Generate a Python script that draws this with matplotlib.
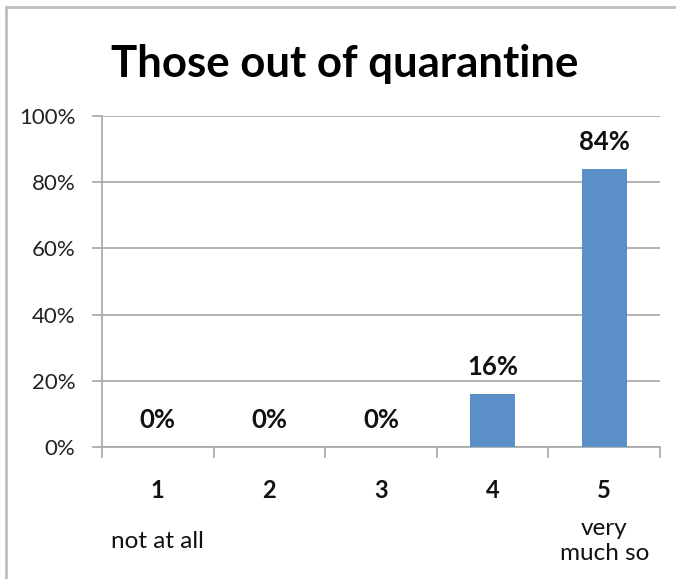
import matplotlib
matplotlib.use("Agg")
import matplotlib.pyplot as plt
from matplotlib.lines import Line2D
from matplotlib.transforms import blended_transform_factory

plt.rcParams['font.family'] = ['Lato', 'DejaVu Sans']

# Survey responses
categories = ["1", "2", "3", "4", "5"]
sublabels = ["not at all", "", "", "", "very\nmuch so"]
values = [0, 0, 0, 16, 84]
y_ticks = [0, 20, 40, 60, 80, 100]
title = "Those out of quarantine"

W, H = 676, 579
fig = plt.figure(figsize=(W / 100, H / 100), dpi=100)

# axes box in pixels: left 102, right 660, top 116, bottom 447
left, right, top, bottom = 102, 660, 116, 447
ax = fig.add_axes([left / W, 1 - bottom / H, (right - left) / W, (bottom - top) / H])

bar_color = "#5B8FC7"
grid_color = "#A6A6A6"
x = list(range(len(categories)))
ax.bar(x, values, width=0.4, color=bar_color, zorder=3)

ax.set_xlim(-0.5, len(categories) - 0.5)
ax.set_ylim(0, 100)
ax.set_yticks(y_ticks)
ax.set_yticklabels([f"{v}%" for v in y_ticks], fontsize=16, color="#222222")
ax.yaxis.grid(True, color=grid_color, linewidth=1.2, zorder=0)
ax.set_axisbelow(True)

# tick marks on category boundaries
ax.set_xticks([i - 0.5 for i in range(len(categories) + 1)])
ax.set_xticklabels([])
ax.tick_params(axis="x", length=8, width=1.2, color=grid_color, direction="out")
ax.tick_params(axis="y", length=7, width=1.2, color=grid_color, direction="out", pad=12)

for s in ["top", "right"]:
    ax.spines[s].set_visible(False)
for s in ["left", "bottom"]:
    ax.spines[s].set_color(grid_color)
    ax.spines[s].set_linewidth(1.2)

# category labels below the axis
tr = blended_transform_factory(ax.transData, fig.transFigure)
for i, (c, sub) in enumerate(zip(categories, sublabels)):
    ax.text(i, 1 - 490 / H, c, transform=tr, ha="center", va="center",
            fontsize=17, fontweight="bold", color="#111111")
    if sub:
        if "\n" in sub:
            ax.text(i, 1 - 541 / H, sub, transform=tr, ha="center", va="center",
                    fontsize=17.5, color="#111111", linespacing=1.2)
        else:
            ax.text(i, 1 - 541 / H, sub, transform=tr, ha="center", va="center",
                    fontsize=17.5, color="#111111")

# value labels above bars
for i, v in enumerate(values):
    ax.annotate(f"{v}%", (i, v), xytext=(0, 11), textcoords="offset points",
                ha="center", va="bottom", fontsize=18.5, fontweight="bold",
                color="#111111")

fig.text(345 / W, 1 - 64 / H, title, ha="center", va="center",
         fontsize=31.5, fontweight="bold", color="#000000")

# outer frame (top and left edges)
frame_color = "#BFBFBF"
fig.add_artist(Line2D([6 / W, 1], [1 - 7 / H, 1 - 7 / H], color=frame_color,
                      linewidth=2, transform=fig.transFigure))
fig.add_artist(Line2D([6 / W, 6 / W], [0, 1 - 7 / H], color=frame_color,
                      linewidth=2, transform=fig.transFigure))

fig.savefig("out.png", dpi=100)
